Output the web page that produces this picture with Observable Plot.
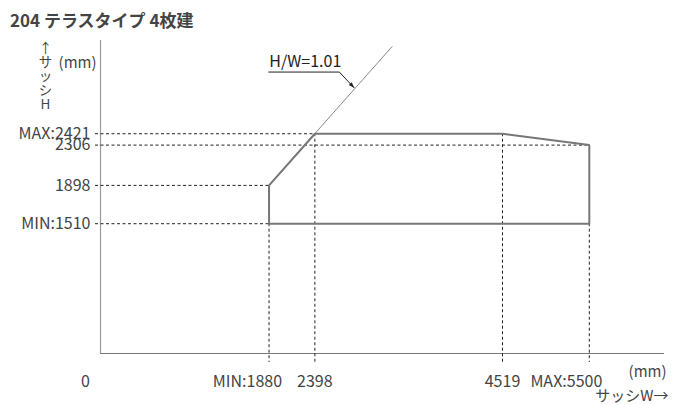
<!DOCTYPE html>
<html><head><meta charset="utf-8">
<script src="https://cdn.jsdelivr.net/npm/d3@7"></script>
<script src="https://cdn.jsdelivr.net/npm/@observablehq/plot@0.6"></script>
<style>
body{margin:0;background:#fff;font-family:"Noto Sans CJK JP","Noto Sans",sans-serif;}
#title{height:32px;box-sizing:border-box;padding:10px 0 0 10px;line-height:20px;font-size:17px;font-weight:bold;color:#444;}
</style></head><body>
<div id="title">204 テラスタイプ 4枚建</div>
<div id="chart"></div>
<script>
// ---- data ----
const widthTicks = [1880, 2398, 4519, 5500];
const widthLabels = ["MIN:1880", "2398", "4519", "MAX:5500"];
const widthRefFromH = [1510, 2421, 2421, 1510];   // vertical guide starts at this H
const heightTicks = [1510, 1898, 2306, 2421];
const heightLabels = ["MIN:1510", "1898", "2306", "MAX:2421"];
const heightRefToW = [1880, 1880, 5500, 2398];    // horizontal guide ends at this W
const rangeW = [1880, 1880, 2398, 4519, 5500, 5500, 1880];
const rangeH = [1510, 1898, 2421, 2421, 2306, 1510, 1510];
const ratio = 1.01;
const ratioLineW = [1880, 3270];
const ratioLabel = "H/W=1.01";
const ratioTipW = 2850;
const originLabel = ["0"];
const yTitle = "↑\nサ\nッ\nシ\nH";
const unitLabel = "(mm)";
const xTitle = "サッシW→";

// ---- scale extents ----
const W0 = -25, W1 = 6350, H0 = 196, H1 = 3365;
const dash = "3,2.5";
const font = '"Noto Sans CJK JP","Noto Sans",sans-serif';
const ink = "#444";

const hRefs = heightTicks.map((h, i) => ({h, w: heightRefToW[i], label: heightLabels[i]}));
const vRefs = widthTicks.map((w, i) => ({w, h: widthRefFromH[i], label: widthLabels[i]}));
const vPlain = vRefs.filter(d => !d.label.includes(":"));
const vPrefixed = vRefs.filter(d => d.label.includes(":"));
const rangePts = rangeW.map((w, i) => ({w, h: rangeH[i]}));
const ratioPts = ratioLineW.map(w => ({w, h: ratio * w}));

const plot = Plot.plot({
  width: 677, height: 373,
  marginLeft: 100, marginRight: 13, marginTop: 8, marginBottom: 52,
  x: {domain: [W0, W1], axis: null},
  y: {domain: [H0, H1], axis: null},
  style: {fontFamily: font, fontSize: "16px", color: ink, background: "#fff", overflow: "visible"},
  marks: [
    Plot.ruleX([W0], {stroke: "#9a9a9a", strokeWidth: 1.2}),
    Plot.ruleY([H0], {stroke: "#777", strokeWidth: 1.2}),
    Plot.ruleY(hRefs, {y: "h", x1: W0, x2: "w", stroke: "#222", strokeDasharray: dash, insetLeft: -5}),
    Plot.ruleX(vRefs, {x: "w", y1: "h", y2: H0, stroke: "#222", strokeDasharray: dash, insetBottom: -9}),
    Plot.line(ratioPts, {x: "w", y: "h", stroke: "#888", strokeWidth: 1}),
    Plot.line(rangePts, {x: "w", y: "h", stroke: "#777", strokeWidth: 2, strokeLinejoin: "miter"}),
    Plot.text(hRefs, {x: W0, y: "h", text: "label", textAnchor: "end", dx: -10, fontSize: 16, fill: ink}),
    Plot.text(vPlain, {x: "w", y: H0, text: "label", dy: 28, fontSize: 16, fill: ink}),
    Plot.text(vPrefixed, {x: "w", y: H0, text: "label", textAnchor: "end", dx: 13, dy: 28, fontSize: 16, fill: ink}),
    Plot.text(originLabel, {x: W0, y: H0, text: d => d, dx: -15, dy: 28, fontSize: 16, fill: ink}),
    Plot.text([yTitle], {x: W0, y: H1, text: d => d, dx: -55, dy: 2, lineAnchor: "top", lineHeight: 1.05, fontSize: 13.5, fill: ink}),
    Plot.text([unitLabel], {x: W0, y: H1, text: d => d, dx: -4, dy: 23, textAnchor: "end", fontSize: 15, fill: ink}),
    Plot.text([unitLabel], {x: W1, y: H0, text: d => d, dx: 2, dy: 19, textAnchor: "end", fontSize: 15, fill: ink}),
    Plot.text([xTitle], {x: W1, y: H0, text: d => d, dx: 4, dy: 43, textAnchor: "end", fontSize: 15, fill: ink})
  ]
});
document.getElementById("chart").appendChild(plot);

// ---- ratio annotation (positions from the plot's own scales) ----
const sx = plot.scale("x"), sy = plot.scale("y");
const tx = sx.apply(ratioTipW), ty = sy.apply(ratio * ratioTipW);
const ex = tx - 15, ey = ty - 16, sx0 = ex - 71;
const svg = d3.select(plot);
svg.append("path").attr("d", `M${sx0},${ey}L${ex},${ey}L${tx},${ty}`)
  .attr("fill", "none").attr("stroke", "#222").attr("stroke-width", 1);
const len = Math.hypot(15, 16), ux = 15 / len, uy = 16 / len, ah = 6, aw = 2;
svg.append("path")
  .attr("d", `M${tx},${ty}L${tx - ah*ux + aw*uy},${ty - ah*uy - aw*ux}L${tx - ah*ux - aw*uy},${ty - ah*uy + aw*ux}Z`)
  .attr("fill", "#222");
svg.append("text").attr("x", sx0 + 1).attr("y", ey - 5)
  .attr("text-anchor", "start")
  .attr("font-family", font).attr("font-size", 16).attr("fill", "#222")
  .text(ratioLabel);
</script>
</body></html>
